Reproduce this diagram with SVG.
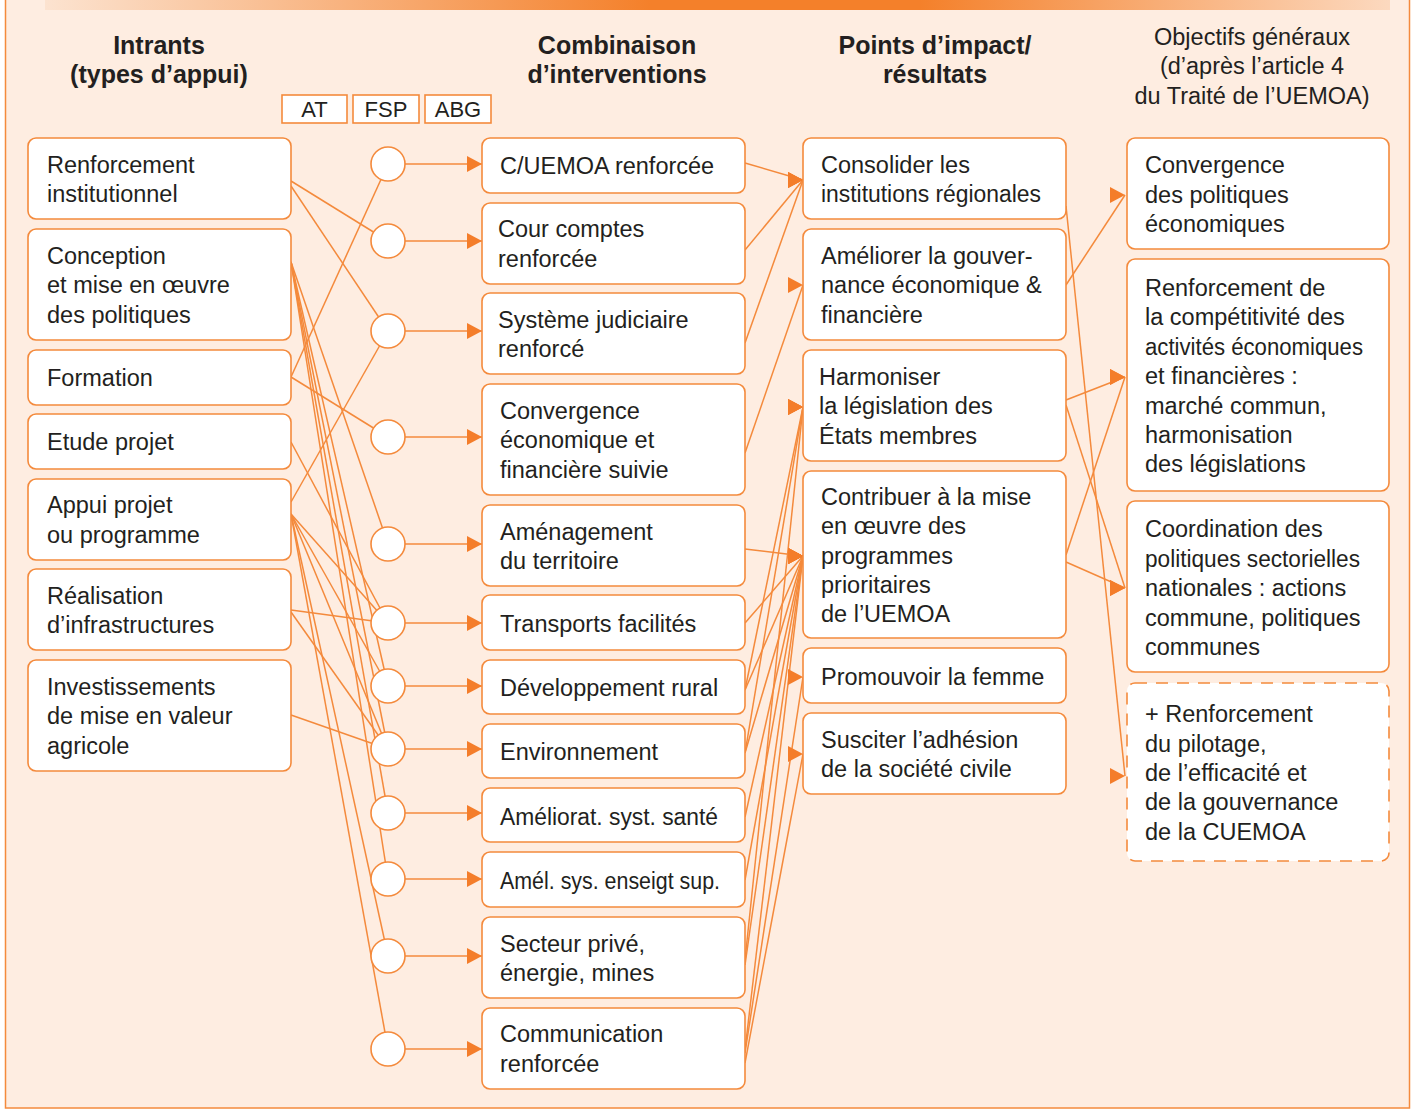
<svg xmlns="http://www.w3.org/2000/svg" width="1415" height="1110" viewBox="0 0 1415 1110">
<defs>
<linearGradient id="hdr" x1="0" y1="0" x2="1" y2="0">
<stop offset="0" stop-color="#FCE3D0"/>
<stop offset="0.45" stop-color="#F4802A"/>
<stop offset="0.65" stop-color="#F4802A"/>
<stop offset="1" stop-color="#FCD9BF"/>
</linearGradient>
<marker id="ah" markerUnits="userSpaceOnUse" markerWidth="16" markerHeight="18" refX="15" refY="8" orient="0">
<path d="M0,0 L15,8 L0,16 z" fill="#F47D2A"/>
</marker>
<style>
.box{fill:#fff;stroke:#F48A3C;stroke-width:1.6}
.dash{fill:#fff;stroke:#F48A3C;stroke-width:1.6;stroke-dasharray:12 9}
.jn{fill:#fff;stroke:#F48A3C;stroke-width:1.6}
.t{font-family:"Liberation Sans",Arial,sans-serif;font-size:23.5px;fill:#231F20}
.h{font-family:"Liberation Sans",Arial,sans-serif;font-size:25px;font-weight:bold;fill:#231F20;text-anchor:middle}
.hn{font-family:"Liberation Sans",Arial,sans-serif;font-size:23.5px;fill:#231F20;text-anchor:middle}
.tag{font-family:"Liberation Sans",Arial,sans-serif;font-size:22px;fill:#231F20;text-anchor:middle}
.c line{stroke:#F48A3C;stroke-width:1.5;fill:none}
.c .a{marker-end:url(#ah)}
</style>
</defs>
<rect x="5.5" y="-5" width="1404" height="1113" fill="#FEEDE1" stroke="#F48A3C" stroke-width="1.5"/>
<rect x="45" y="0" width="1345" height="10" fill="url(#hdr)"/>

<g id="headers">
<text class="h" x="159" y="54">Intrants</text>
<text class="h" x="159" y="83">(types d’appui)</text>
<text class="h" x="617" y="54">Combinaison</text>
<text class="h" x="617" y="83">d’interventions</text>
<text class="h" x="935" y="54">Points d’impact/</text>
<text class="h" x="935" y="83">résultats</text>
<text class="hn" x="1252" y="45">Objectifs généraux</text>
<text class="hn" x="1252" y="74">(d’après l’article 4</text>
<text class="hn" x="1252" y="104">du Traité de l’UEMOA)</text>
</g>
<g id="tags">
<rect class="box" x="282" y="95" width="65" height="28"/><text class="tag" x="314.5" y="117">AT</text>
<rect class="box" x="353" y="95" width="66" height="28"/><text class="tag" x="386" y="117">FSP</text>
<rect class="box" x="425" y="95" width="66" height="28"/><text class="tag" x="458" y="117">ABG</text>
</g>

<g id="connectors" class="c">
<line x1="291" y1="181" x2="388" y2="241"/>
<line x1="291" y1="186" x2="388" y2="331"/>
<line x1="291" y1="262" x2="388" y2="544"/>
<line x1="291" y1="262" x2="388" y2="686"/>
<line x1="291" y1="262" x2="388" y2="749"/>
<line x1="291" y1="262" x2="388" y2="813"/>
<line x1="291" y1="262" x2="388" y2="879"/>
<line x1="291" y1="377" x2="388" y2="164"/>
<line x1="291" y1="377" x2="388" y2="437"/>
<line x1="291" y1="442" x2="388" y2="623"/>
<line x1="291" y1="502" x2="388" y2="331"/>
<line x1="291" y1="514" x2="388" y2="623"/>
<line x1="291" y1="514" x2="388" y2="686"/>
<line x1="291" y1="514" x2="388" y2="749"/>
<line x1="291" y1="514" x2="388" y2="956"/>
<line x1="291" y1="514" x2="388" y2="1049"/>
<line x1="291" y1="610" x2="388" y2="623"/>
<line x1="291" y1="612" x2="388" y2="749"/>
<line x1="291" y1="715" x2="388" y2="749"/>
<line class="a" x1="405" y1="164" x2="482" y2="164"/>
<line class="a" x1="405" y1="241" x2="482" y2="241"/>
<line class="a" x1="405" y1="331" x2="482" y2="331"/>
<line class="a" x1="405" y1="437" x2="482" y2="437"/>
<line class="a" x1="405" y1="544" x2="482" y2="544"/>
<line class="a" x1="405" y1="623" x2="482" y2="623"/>
<line class="a" x1="405" y1="686" x2="482" y2="686"/>
<line class="a" x1="405" y1="749" x2="482" y2="749"/>
<line class="a" x1="405" y1="813" x2="482" y2="813"/>
<line class="a" x1="405" y1="879" x2="482" y2="879"/>
<line class="a" x1="405" y1="956" x2="482" y2="956"/>
<line class="a" x1="405" y1="1049" x2="482" y2="1049"/>
<line class="a" x1="745" y1="163" x2="803" y2="180"/>
<line class="a" x1="745" y1="250" x2="803" y2="180"/>
<line class="a" x1="745" y1="343" x2="803" y2="180"/>
<line class="a" x1="745" y1="453" x2="803" y2="285"/>
<line class="a" x1="745" y1="690" x2="803" y2="407"/>
<line class="a" x1="745" y1="753" x2="803" y2="407"/>
<line class="a" x1="745" y1="960" x2="803" y2="407"/>
<line class="a" x1="745" y1="549" x2="803" y2="556"/>
<line class="a" x1="745" y1="623" x2="803" y2="556"/>
<line class="a" x1="745" y1="690" x2="803" y2="556"/>
<line class="a" x1="745" y1="753" x2="803" y2="556"/>
<line class="a" x1="745" y1="817" x2="803" y2="556"/>
<line class="a" x1="745" y1="880" x2="803" y2="556"/>
<line class="a" x1="745" y1="965" x2="803" y2="556"/>
<line class="a" x1="745" y1="1050" x2="803" y2="556"/>
<line class="a" x1="745" y1="1053" x2="803" y2="677"/>
<line class="a" x1="745" y1="1063" x2="803" y2="754"/>
<line class="a" x1="1066" y1="285" x2="1125" y2="195"/>
<line class="a" x1="1066" y1="400" x2="1125" y2="377"/>
<line class="a" x1="1066" y1="555" x2="1125" y2="377"/>
<line class="a" x1="1066" y1="405" x2="1125" y2="588"/>
<line class="a" x1="1066" y1="562" x2="1125" y2="588"/>
<line class="a" x1="1066" y1="206" x2="1125" y2="776"/>
</g>

<g id="junctions">
<circle class="jn" cx="388" cy="164" r="17"/>
<circle class="jn" cx="388" cy="241" r="17"/>
<circle class="jn" cx="388" cy="331" r="17"/>
<circle class="jn" cx="388" cy="437" r="17"/>
<circle class="jn" cx="388" cy="544" r="17"/>
<circle class="jn" cx="388" cy="623" r="17"/>
<circle class="jn" cx="388" cy="686" r="17"/>
<circle class="jn" cx="388" cy="749" r="17"/>
<circle class="jn" cx="388" cy="813" r="17"/>
<circle class="jn" cx="388" cy="879" r="17"/>
<circle class="jn" cx="388" cy="956" r="17"/>
<circle class="jn" cx="388" cy="1049" r="17"/>
</g>

<g id="in-renforcement"><rect class="box" x="28" y="138" width="263" height="81" rx="8"/>
<text class="t" x="47" y="173">Renforcement</text><text class="t" x="47" y="202">institutionnel</text></g>
<g id="in-conception"><rect class="box" x="28" y="229" width="263" height="111" rx="8"/>
<text class="t" x="47" y="264">Conception</text><text class="t" x="47" y="293">et mise en œuvre</text><text class="t" x="47" y="323">des politiques</text></g>
<g id="in-formation"><rect class="box" x="28" y="350" width="263" height="55" rx="8"/>
<text class="t" x="47" y="386">Formation</text></g>
<g id="in-etude"><rect class="box" x="28" y="414" width="263" height="55" rx="8"/>
<text class="t" x="47" y="450">Etude projet</text></g>
<g id="in-appui"><rect class="box" x="28" y="479" width="263" height="81" rx="8"/>
<text class="t" x="47" y="513">Appui projet</text><text class="t" x="47" y="543">ou programme</text></g>
<g id="in-realisation"><rect class="box" x="28" y="569" width="263" height="81" rx="8"/>
<text class="t" x="47" y="604">Réalisation</text><text class="t" x="47" y="633">d’infrastructures</text></g>
<g id="in-investissements"><rect class="box" x="28" y="660" width="263" height="111" rx="8"/>
<text class="t" x="47" y="695">Investissements</text><text class="t" x="47" y="724">de mise en valeur</text><text class="t" x="47" y="754">agricole</text></g>

<g id="iv-cuemoa"><rect class="box" x="482" y="138" width="263" height="55" rx="8"/>
<text class="t" x="500" y="174">C/UEMOA renforcée</text></g>
<g id="iv-cour"><rect class="box" x="482" y="203" width="263" height="81" rx="8"/>
<text class="t" x="498" y="237">Cour comptes</text><text class="t" x="498" y="267">renforcée</text></g>
<g id="iv-justice"><rect class="box" x="482" y="293" width="263" height="81" rx="8"/>
<text class="t" x="498" y="328">Système judiciaire</text><text class="t" x="498" y="357">renforcé</text></g>
<g id="iv-convergence"><rect class="box" x="482" y="384" width="263" height="111" rx="8"/>
<text class="t" x="500" y="419">Convergence</text><text class="t" x="500" y="448">économique et</text><text class="t" x="500" y="478">financière suivie</text></g>
<g id="iv-amenagement"><rect class="box" x="482" y="505" width="263" height="81" rx="8"/>
<text class="t" x="500" y="540">Aménagement</text><text class="t" x="500" y="569">du territoire</text></g>
<g id="iv-transports"><rect class="box" x="482" y="595" width="263" height="55" rx="8"/>
<text class="t" x="500" y="632">Transports facilités</text></g>
<g id="iv-rural"><rect class="box" x="482" y="660" width="263" height="54" rx="8"/>
<text class="t" x="500" y="696">Développement rural</text></g>
<g id="iv-environnement"><rect class="box" x="482" y="724" width="263" height="54" rx="8"/>
<text class="t" x="500" y="760">Environnement</text></g>
<g id="iv-sante"><rect class="box" x="482" y="788" width="263" height="54" rx="8"/>
<text class="t" x="500" y="825" textLength="218" lengthAdjust="spacingAndGlyphs">Améliorat. syst. santé</text></g>
<g id="iv-enseignement"><rect class="box" x="482" y="852" width="263" height="55" rx="8"/>
<text class="t" x="500" y="889" textLength="220" lengthAdjust="spacingAndGlyphs">Amél. sys. enseigt sup.</text></g>
<g id="iv-prive"><rect class="box" x="482" y="917" width="263" height="81" rx="8"/>
<text class="t" x="500" y="952">Secteur privé,</text><text class="t" x="500" y="981">énergie, mines</text></g>
<g id="iv-communication"><rect class="box" x="482" y="1008" width="263" height="81" rx="8"/>
<text class="t" x="500" y="1042">Communication</text><text class="t" x="500" y="1072">renforcée</text></g>

<g id="ip-consolider"><rect class="box" x="803" y="138" width="263" height="81" rx="8"/>
<text class="t" x="821" y="173">Consolider les</text><text class="t" x="821" y="202" textLength="220" lengthAdjust="spacingAndGlyphs">institutions régionales</text></g>
<g id="ip-ameliorer"><rect class="box" x="803" y="229" width="263" height="111" rx="8"/>
<text class="t" x="821" y="264">Améliorer la gouver-</text><text class="t" x="821" y="293">nance économique &amp;</text><text class="t" x="821" y="323">financière</text></g>
<g id="ip-harmoniser"><rect class="box" x="803" y="350" width="263" height="111" rx="8"/>
<text class="t" x="819" y="385">Harmoniser</text><text class="t" x="819" y="414">la législation des</text><text class="t" x="819" y="444">États membres</text></g>
<g id="ip-contribuer"><rect class="box" x="803" y="471" width="263" height="167" rx="8"/>
<text class="t" x="821" y="505">Contribuer à la mise</text><text class="t" x="821" y="534">en œuvre des</text><text class="t" x="821" y="564">programmes</text><text class="t" x="821" y="593">prioritaires</text><text class="t" x="821" y="622">de l’UEMOA</text></g>
<g id="ip-femme"><rect class="box" x="803" y="648" width="263" height="55" rx="8"/>
<text class="t" x="821" y="685">Promouvoir la femme</text></g>
<g id="ip-societe"><rect class="box" x="803" y="713" width="263" height="81" rx="8"/>
<text class="t" x="821" y="748">Susciter l’adhésion</text><text class="t" x="821" y="777">de la société civile</text></g>

<g id="ob-convergence"><rect class="box" x="1127" y="138" width="262" height="111" rx="8"/>
<text class="t" x="1145" y="173">Convergence</text><text class="t" x="1145" y="203">des politiques</text><text class="t" x="1145" y="232">économiques</text></g>
<g id="ob-competitivite"><rect class="box" x="1127" y="259" width="262" height="232" rx="8"/>
<text class="t" x="1145" y="296">Renforcement de</text><text class="t" x="1145" y="325">la compétitivité des</text><text class="t" x="1145" y="355" textLength="218" lengthAdjust="spacingAndGlyphs">activités économiques</text><text class="t" x="1145" y="384">et financières :</text><text class="t" x="1145" y="414">marché commun,</text><text class="t" x="1145" y="443">harmonisation</text><text class="t" x="1145" y="472">des législations</text></g>
<g id="ob-coordination"><rect class="box" x="1127" y="501" width="262" height="171" rx="8"/>
<text class="t" x="1145" y="537">Coordination des</text><text class="t" x="1145" y="567" textLength="215" lengthAdjust="spacingAndGlyphs">politiques sectorielles</text><text class="t" x="1145" y="596">nationales : actions</text><text class="t" x="1145" y="626">commune, politiques</text><text class="t" x="1145" y="655">communes</text></g>
<g id="ob-pilotage"><rect class="dash" x="1127" y="683" width="262" height="178" rx="8"/>
<text class="t" x="1145" y="722">+ Renforcement</text><text class="t" x="1145" y="752">du pilotage,</text><text class="t" x="1145" y="781">de l’efficacité et</text><text class="t" x="1145" y="810">de la gouvernance</text><text class="t" x="1145" y="840">de la CUEMOA</text></g>
</svg>
